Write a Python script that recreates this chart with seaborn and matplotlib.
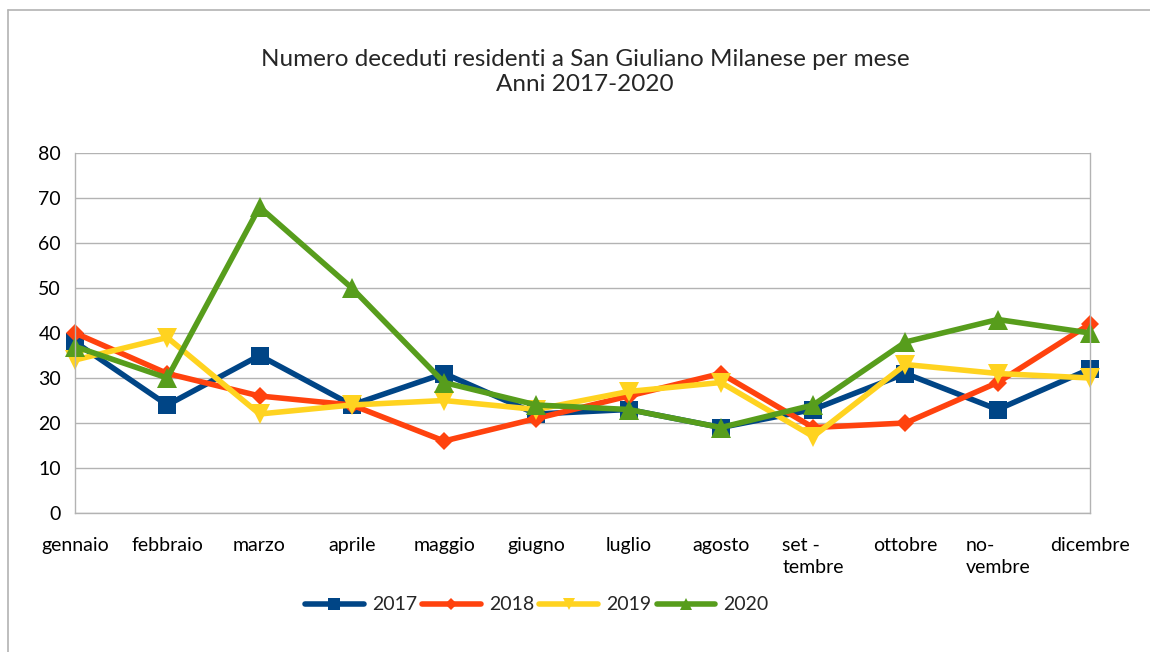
import matplotlib
matplotlib.use("Agg")
import matplotlib.pyplot as plt
import seaborn as sns
import pandas as pd
from matplotlib.lines import Line2D

months = ["gennaio", "febbraio", "marzo", "aprile", "maggio", "giugno",
          "luglio", "agosto", "set -\ntembre", "ottobre", "no-\nvembre", "dicembre"]
y2017 = [38, 24, 35, 24, 31, 22, 23, 19, 23, 31, 23, 32]
y2018 = [40, 31, 26, 24, 16, 21, 26, 31, 19, 20, 29, 42]
y2019 = [34, 39, 22, 24, 25, 23, 27, 29, 17, 33, 31, 30]
y2020 = [37, 30, 68, 50, 29, 24, 23, 19, 24, 38, 43, 40]
years = ["2017", "2018", "2019", "2020"]
yticks = [0, 10, 20, 30, 40, 50, 60, 70, 80]

series = {"2017": y2017, "2018": y2018, "2019": y2019, "2020": y2020}
colors = {"2017": "#004586", "2018": "#ff420e", "2019": "#ffd320", "2020": "#579d1c"}
markers = {"2017": "s", "2018": "D", "2019": "v", "2020": "^"}
msizes = {"2017": 13, "2018": 9.5, "2019": 14, "2020": 14}

sns.set_style("white")
plt.rcParams['font.family'] = ['Lato', 'DejaVu Sans']

fig = plt.figure(figsize=(11.5, 6.52), dpi=100)
ax = fig.add_axes([75/1150, 1-513/652, (1090-75)/1150, (513-153)/652])

for yr in years:
    df = pd.DataFrame({"x": range(len(months)), "v": series[yr]})
    sns.lineplot(data=df, x="x", y="v", ax=ax, color=colors[yr], linewidth=4.0,
                 marker=markers[yr], markersize=msizes[yr], markeredgewidth=0,
                 label=yr, legend=False, clip_on=False)

ax.set_xlim(0, len(months) - 1)
ax.set_ylim(0, 80)
ax.set_yticks(yticks)
ax.set_yticklabels([str(t) for t in yticks], fontsize=14)
ax.set_xticks(range(len(months)))
ax.set_xticklabels(months, fontsize=14, linespacing=1.35, multialignment="left")
ax.set_xlabel("")
ax.set_ylabel("")
ax.grid(axis="y", color="#b3b3b3", linewidth=1)
ax.set_axisbelow(True)
for s in ["left", "bottom", "right"]:
    ax.spines[s].set_color("#b3b3b3")
    ax.spines[s].set_linewidth(1)
ax.spines["top"].set_visible(False)
ax.tick_params(axis="x", length=8, color="#b3b3b3", direction="out", pad=9)
ax.tick_params(axis="y", length=6, color="#b3b3b3", direction="out", pad=4)
ax.tick_params(axis="both", labelcolor="black")

fig.text(585/1150, 1-72/652, "Numero deceduti residenti a San Giuliano Milanese per mese\nAnni 2017-2020",
         ha="center", va="center", fontsize=17.5, linespacing=1.25)

handles = [Line2D([0], [0], color=colors[yr], linewidth=4.0, marker=markers[yr],
                  markersize=msizes[yr] * 0.65, markeredgewidth=0) for yr in years]
fig.legend(handles, years, loc="center", bbox_to_anchor=(537/1150, 1-605/652), ncol=4,
           frameon=False, fontsize=14, handlelength=3.0, columnspacing=0.25, handletextpad=0.45)

fig.add_artist(Line2D([8/1150, 8/1150], [0, 1-10/652], transform=fig.transFigure,
                      color="#b3b3b3", linewidth=1.2))
fig.add_artist(Line2D([8/1150, 1], [1-10/652, 1-10/652], transform=fig.transFigure,
                      color="#b3b3b3", linewidth=1.2))

fig.savefig("out.png", dpi=100)
